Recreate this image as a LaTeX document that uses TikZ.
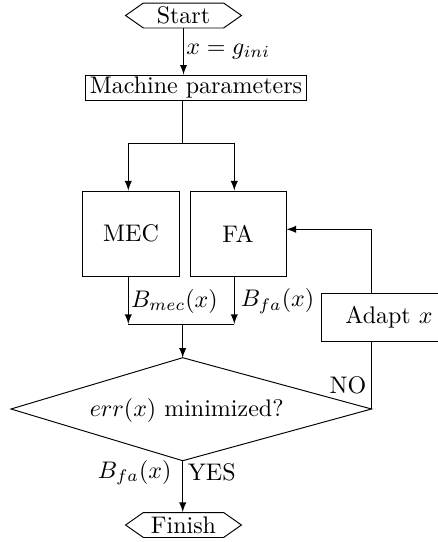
\documentclass[tikz,border=0pt]{standalone}
\usetikzlibrary{shapes.symbols,arrows}
\begin{document}
\begin{tikzpicture}[x=0.4167pt, y=-0.4167pt,
  box/.style={draw, thin, inner sep=0pt},
  term/.style={draw, thin, shape=signal, signal to=west and east, signal pointer angle=70,
    minimum width=48.3pt, minimum height=10.4pt, inner sep=0.5pt},
  conn/.style={-latex, thin},
  plain/.style={thin},
  lab/.style={inner sep=1pt}]
\useasboundingbox (0,0) rectangle (438,542);
\clip (0,0) rectangle (438,542);

\node[term] (start) at (183.5,15.5) {Start};
\node[box, minimum width=91.7pt, minimum height=10.6pt] (mp) at (196,87.8) {Machine parameters};
\node[box, minimum width=40.25pt, minimum height=35.4pt] (mec) at (131,233.5) {MEC};
\node[box, minimum width=40pt, minimum height=35.4pt] (fa) at (238,233.5) {FA};
\node[box, minimum width=56.1pt, minimum height=19.9pt] (adapt) at (389,317.2) {Adapt $x$};
\node[term] (finish) at (183.5,525) {Finish};

\coordinate (dl) at (11,409);
\coordinate (dt) at (182.7,357.7);
\coordinate (dr) at (371.5,409);
\coordinate (db) at (182.7,460.7);
\draw[plain] (dl) -- (dt) -- (dr) -- (db) -- cycle;
\node (dtext) at (186.7,410) {$err(x)$ minimized?};

\coordinate (split) at (182.5,143.3);
\coordinate (mecx) at (128.3,0);
\coordinate (fax) at (234.3,0);
\coordinate (join) at (182.7,324);
\coordinate (fby) at (0,229.3);

\draw[conn] (start.south) -- node[lab, right] {$x=g_{ini}$} (start.south |- mp.north);
\draw[plain] (split |- mp.south) -- (split);
\draw[conn] (split) -| (mecx |- mec.north);
\draw[conn] (split) -| (fax |- fa.north);
\draw[conn] (mecx |- mec.south) -- node[lab, right, pos=0.52] {$B_{mec}(x)$} (mecx |- join);
\draw[conn] (fax |- fa.south) -- node[lab, right, pos=0.52, xshift=1.5pt] {$B_{fa}(x)$} (fax |- join);
\draw[plain] (mecx |- join) -- (fax |- join);
\draw[conn] (join) -- (dt);
\draw[plain] (dr) -- node[inner sep=2pt, left, pos=0.35] {NO} (dr |- adapt.south);
\draw[conn] (dr |- adapt.north) |- (fa.east |- fby);
\draw[conn] (db) -- node[pos=0.23, left, inner sep=4.5pt] {$B_{fa}(x)$} node[pos=0.23, right, inner sep=2pt] {YES} (db |- finish.north);
\end{tikzpicture}
\end{document}
